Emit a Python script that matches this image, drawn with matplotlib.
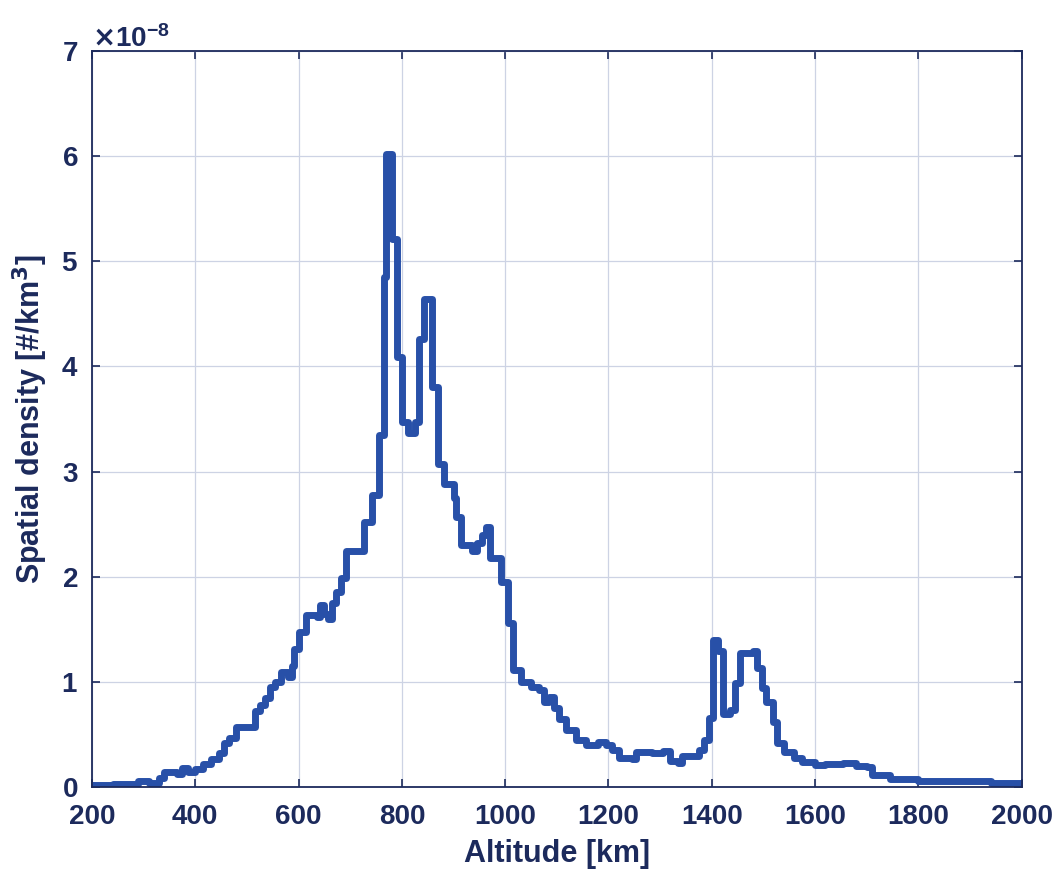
import matplotlib.pyplot as plt
from matplotlib.ticker import ScalarFormatter

# altitude [km] where each step starts, and spatial density (x 1e-8 per km^3)
altitude = [200, 240, 290, 310, 330, 340, 365, 375, 385, 400, 415, 430, 445, 455, 465, 478,
            515, 525, 535, 545, 555, 565, 580, 588, 592, 600, 615, 635, 642, 650, 656, 665,
            672, 683, 692, 727, 742, 755, 765, 770, 780, 790, 800, 812, 825, 834, 843, 858,
            870, 882, 900, 905, 915, 935, 945, 955, 962, 970, 992, 1005, 1015, 1030, 1050,
            1066, 1075, 1085, 1095, 1104, 1118, 1137, 1157, 1180, 1195, 1207, 1220, 1245,
            1253, 1285, 1305, 1320, 1335, 1342, 1375, 1385, 1394, 1402, 1412, 1422, 1435,
            1445, 1455, 1480, 1487, 1497, 1506, 1518, 1527, 1540, 1560, 1575, 1600, 1620,
            1655, 1680, 1700, 1710, 1745, 1800, 1860, 1940, 2000]
density = [0.02, 0.03, 0.06, 0.04, 0.09, 0.14, 0.12, 0.18, 0.14, 0.17, 0.22, 0.27, 0.32, 0.42,
           0.47, 0.57, 0.72, 0.78, 0.85, 0.95, 1.00, 1.09, 1.05, 1.15, 1.31, 1.47, 1.64, 1.62,
           1.73, 1.65, 1.60, 1.75, 1.85, 1.99, 2.24, 2.52, 2.78, 3.35, 4.85, 6.02, 5.21, 4.09,
           3.47, 3.37, 3.47, 4.26, 4.64, 3.80, 3.07, 2.88, 2.75, 2.57, 2.30, 2.24, 2.32, 2.40,
           2.47, 2.18, 1.95, 1.56, 1.11, 1.00, 0.95, 0.92, 0.81, 0.86, 0.75, 0.65, 0.54, 0.45,
           0.40, 0.43, 0.40, 0.35, 0.28, 0.27, 0.33, 0.32, 0.34, 0.25, 0.23, 0.29, 0.35, 0.45,
           0.66, 1.40, 1.29, 0.69, 0.73, 0.99, 1.27, 1.29, 1.13, 0.94, 0.81, 0.62, 0.42, 0.33,
           0.28, 0.24, 0.21, 0.22, 0.23, 0.20, 0.19, 0.11, 0.08, 0.06, 0.06, 0.04, 0.04]

navy = '#1c2a5c'
plt.rcParams['font.family'] = ['Liberation Sans', 'DejaVu Sans']
plt.rcParams['font.weight'] = 'bold'
plt.rcParams['mathtext.default'] = 'bf'
plt.rcParams['axes.unicode_minus'] = False

fig = plt.figure(figsize=(10.6, 8.72), dpi=100)
ax = fig.add_axes([0.0868, 0.0975, 0.877, 0.844])

ax.plot(altitude, [d * 1e-8 for d in density], drawstyle='steps-post',
        color='#2850a8', linewidth=5, solid_joinstyle='round', solid_capstyle='round')

ax.set_xlim(200, 2000)
ax.set_ylim(0, 7e-8)
ax.set_xticks(range(200, 2001, 200))
ax.set_yticks([i * 1e-8 for i in range(8)])

fmt = ScalarFormatter(useMathText=True)
fmt.set_powerlimits((0, 0))
ax.yaxis.set_major_formatter(fmt)
ax.yaxis.get_offset_text().set_fontsize(20)
ax.yaxis.get_offset_text().set_color(navy)

ax.grid(True, color='#cdd3e4', linewidth=0.9)
ax.set_axisbelow(True)
ax.tick_params(direction='in', top=True, right=True, length=6, width=1.2,
               colors=navy, labelsize=20)
ax.tick_params(axis='x', pad=12)
ax.tick_params(axis='y', pad=10)
for s in ax.spines.values():
    s.set_color(navy)
    s.set_linewidth(1.3)

ax.set_xlabel('Altitude [km]', fontsize=22, fontweight='bold', color=navy, labelpad=7)
ax.set_ylabel('Spatial density [#/km$^3$]', fontsize=22, fontweight='bold', color=navy, labelpad=8)

fig.savefig('out.png', dpi=100)
